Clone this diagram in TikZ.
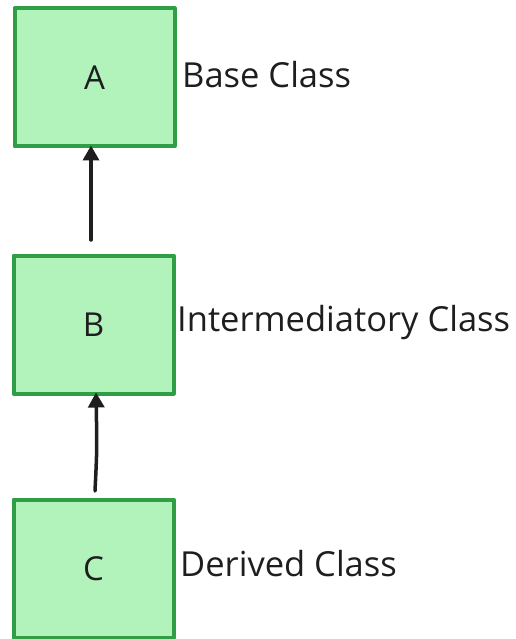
\documentclass[tikz,border=0pt]{standalone}
\usepackage{fontspec}
\setmainfont{Open Sans}
\usetikzlibrary{arrows.meta}
\definecolor{boxfill}{HTML}{B2F2BB}
\definecolor{boxline}{HTML}{2F9E44}
\definecolor{ink}{HTML}{1E1E1E}
\begin{document}
\begin{tikzpicture}[x=1pt,y=-1pt,
  classbox/.style={draw=boxline, fill=boxfill, line width=4pt, line join=round,
    minimum width=160pt, minimum height=138pt, inner sep=0pt, outer sep=0pt,
    font=\fontsize{33}{36}\selectfont, text=ink},
  tag/.style={anchor=west, inner sep=0pt, font=\fontsize{34.5}{36}\selectfont, text=ink},
  link/.style={draw=ink, line width=3.5pt, line cap=round, -{Triangle[length=15pt,width=16pt]}}]
\useasboundingbox (0,0) rectangle (515,639);
\node[classbox] (a) at (94.5,77.5) {A};
\node[classbox] (b) at (93.5,324.5) {B};
\node[classbox] (c) at (93.5,568.5) {C};
\node[tag] (ta) at (182,75) {Base Class};
\node[tag] (tb) at (177,323) {Intermediatory Class};
\node[tag] (tc) at (180,564) {Derived Class};
\coordinate (sa) at (91,240);
\coordinate (sb) at (95,491);
\draw[link] (sa) -- ([yshift=1pt]a.south -| sa);
\draw[link] (sb) .. controls (97,450) .. ([yshift=1pt]b.south -| 96,0);
\end{tikzpicture}
\end{document}
